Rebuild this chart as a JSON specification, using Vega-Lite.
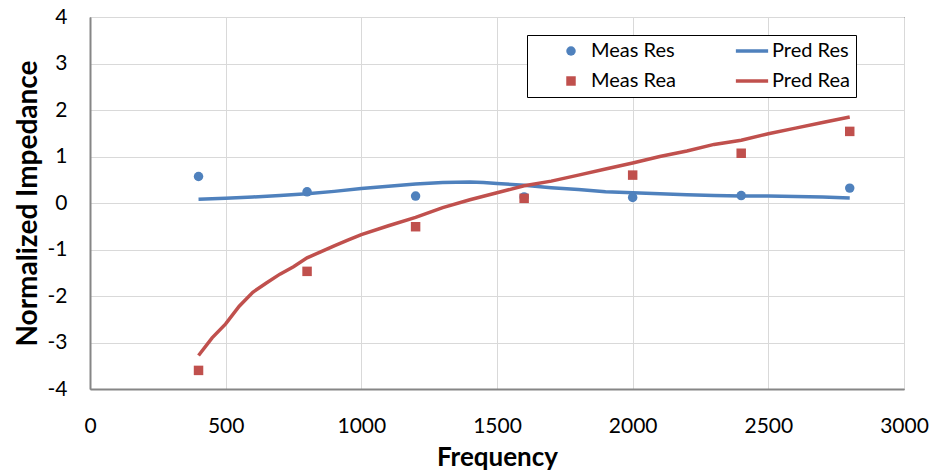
{
  "$schema": "https://vega.github.io/schema/vega-lite/v6.json",
  "width": 814,
  "height": 372,
  "autosize": {"type": "none"},
  "padding": {"left": 90, "top": 17, "right": 31, "bottom": 82},
  "background": "white",
  "config": {
    "font": "Lato",
    "view": {"stroke": "#000000", "strokeWidth": 1}
  },
  "datasets": {
    "meas": [
      {"freq": 400, "series": "Meas Res", "value": 0.57},
      {"freq": 800, "series": "Meas Res", "value": 0.24},
      {"freq": 1200, "series": "Meas Res", "value": 0.15},
      {"freq": 1600, "series": "Meas Res", "value": 0.13},
      {"freq": 2000, "series": "Meas Res", "value": 0.12},
      {"freq": 2400, "series": "Meas Res", "value": 0.16},
      {"freq": 2800, "series": "Meas Res", "value": 0.32},
      {"freq": 400, "series": "Meas Rea", "value": -3.6},
      {"freq": 800, "series": "Meas Rea", "value": -1.47},
      {"freq": 1200, "series": "Meas Rea", "value": -0.51},
      {"freq": 1600, "series": "Meas Rea", "value": 0.1},
      {"freq": 2000, "series": "Meas Rea", "value": 0.6},
      {"freq": 2400, "series": "Meas Rea", "value": 1.07},
      {"freq": 2800, "series": "Meas Rea", "value": 1.54}
    ],
    "pred": [
      {"freq": 400, "series": "Pred Res", "value": 0.08},
      {"freq": 500, "series": "Pred Res", "value": 0.1},
      {"freq": 600, "series": "Pred Res", "value": 0.13},
      {"freq": 700, "series": "Pred Res", "value": 0.16},
      {"freq": 800, "series": "Pred Res", "value": 0.2},
      {"freq": 900, "series": "Pred Res", "value": 0.25},
      {"freq": 1000, "series": "Pred Res", "value": 0.31},
      {"freq": 1100, "series": "Pred Res", "value": 0.36},
      {"freq": 1200, "series": "Pred Res", "value": 0.41},
      {"freq": 1300, "series": "Pred Res", "value": 0.44},
      {"freq": 1400, "series": "Pred Res", "value": 0.45},
      {"freq": 1450, "series": "Pred Res", "value": 0.44},
      {"freq": 1500, "series": "Pred Res", "value": 0.42},
      {"freq": 1600, "series": "Pred Res", "value": 0.38},
      {"freq": 1700, "series": "Pred Res", "value": 0.33},
      {"freq": 1800, "series": "Pred Res", "value": 0.29},
      {"freq": 1900, "series": "Pred Res", "value": 0.24},
      {"freq": 2000, "series": "Pred Res", "value": 0.22},
      {"freq": 2100, "series": "Pred Res", "value": 0.2},
      {"freq": 2200, "series": "Pred Res", "value": 0.18},
      {"freq": 2300, "series": "Pred Res", "value": 0.16},
      {"freq": 2400, "series": "Pred Res", "value": 0.15},
      {"freq": 2500, "series": "Pred Res", "value": 0.15},
      {"freq": 2600, "series": "Pred Res", "value": 0.14},
      {"freq": 2700, "series": "Pred Res", "value": 0.13},
      {"freq": 2800, "series": "Pred Res", "value": 0.11},
      {"freq": 400, "series": "Pred Rea", "value": -3.28},
      {"freq": 450, "series": "Pred Rea", "value": -2.9},
      {"freq": 500, "series": "Pred Rea", "value": -2.6},
      {"freq": 550, "series": "Pred Rea", "value": -2.22},
      {"freq": 600, "series": "Pred Rea", "value": -1.92},
      {"freq": 650, "series": "Pred Rea", "value": -1.72},
      {"freq": 700, "series": "Pred Rea", "value": -1.53},
      {"freq": 750, "series": "Pred Rea", "value": -1.37},
      {"freq": 800, "series": "Pred Rea", "value": -1.18},
      {"freq": 850, "series": "Pred Rea", "value": -1.05},
      {"freq": 900, "series": "Pred Rea", "value": -0.92},
      {"freq": 950, "series": "Pred Rea", "value": -0.8},
      {"freq": 1000, "series": "Pred Rea", "value": -0.68},
      {"freq": 1100, "series": "Pred Rea", "value": -0.49},
      {"freq": 1200, "series": "Pred Rea", "value": -0.31},
      {"freq": 1300, "series": "Pred Rea", "value": -0.1},
      {"freq": 1400, "series": "Pred Rea", "value": 0.07},
      {"freq": 1500, "series": "Pred Rea", "value": 0.22},
      {"freq": 1600, "series": "Pred Rea", "value": 0.37},
      {"freq": 1700, "series": "Pred Rea", "value": 0.47},
      {"freq": 1800, "series": "Pred Rea", "value": 0.6},
      {"freq": 1900, "series": "Pred Rea", "value": 0.73},
      {"freq": 2000, "series": "Pred Rea", "value": 0.86},
      {"freq": 2100, "series": "Pred Rea", "value": 1.0},
      {"freq": 2200, "series": "Pred Rea", "value": 1.12},
      {"freq": 2300, "series": "Pred Rea", "value": 1.26},
      {"freq": 2400, "series": "Pred Rea", "value": 1.35},
      {"freq": 2500, "series": "Pred Rea", "value": 1.49},
      {"freq": 2600, "series": "Pred Rea", "value": 1.61},
      {"freq": 2700, "series": "Pred Rea", "value": 1.73},
      {"freq": 2800, "series": "Pred Rea", "value": 1.85}
    ]
  },
  "encoding": {
    "x": {
      "field": "freq", "type": "quantitative",
      "scale": {"domain": [0, 3000], "nice": false, "zero": false},
      "axis": {
        "title": "Frequency", "values": [0, 500, 1000, 1500, 2000, 2500, 3000],
        "labelExpr": "'' + datum.value", "labelFlush": false,
        "grid": true, "gridColor": "#d9d9d9", "gridWidth": 1,
        "domainColor": "#868686", "domainWidth": 2, "ticks": false,
        "labelFontSize": 21, "labelColor": "#000", "labelPadding": 26, "labelFont": "Lato",
        "titleFontSize": 26, "titleFontWeight": "bold", "titleColor": "#000", "titleFont": "Lato",
        "titleY": 68, "titleBaseline": "middle"
      }
    },
    "y": {
      "field": "value", "type": "quantitative",
      "scale": {"domain": [-4, 4], "nice": false, "zero": false},
      "axis": {
        "title": "Normalized Impedance", "values": [-4, -3, -2, -1, 0, 1, 2, 3, 4],
        "labelExpr": "'' + datum.value", "labelFlush": false,
        "grid": true, "gridColor": "#d9d9d9", "gridWidth": 1,
        "domainColor": "#868686", "domainWidth": 2, "ticks": false,
        "labelFontSize": 21, "labelColor": "#000", "labelPadding": 23, "labelFont": "Lato",
        "titleFontSize": 28, "titleFontWeight": "bold", "titleColor": "#000", "titleFont": "Lato",
        "titleX": -62, "titleY": 186, "titleAngle": -90, "titleBaseline": "middle", "titleAlign": "center"
      }
    }
  },
  "layer": [
    {
      "data": {"name": "pred"},
      "mark": {"type": "line", "strokeWidth": 3.5},
      "encoding": {
        "stroke": {
          "field": "series", "type": "nominal",
          "scale": {"domain": ["Pred Res", "Pred Rea"], "range": ["#4f81bd", "#c0504d"]},
          "legend": null
        }
      }
    },
    {
      "data": {"name": "meas"},
      "mark": {"type": "point", "filled": true, "opacity": 1, "size": 90},
      "encoding": {
        "color": {
          "field": "series", "type": "nominal",
          "scale": {
            "domain": ["Meas Res", "Meas Rea", "Pred Res", "Pred Rea"],
            "range": ["#4f81bd", "#c0504d", "#4f81bd", "#c0504d"]
          },
          "legend": {
            "title": null, "orient": "none", "legendX": 437, "legendY": 18,
            "columns": 2, "columnPadding": 38, "rowPadding": 10,
            "fillColor": "white", "strokeColor": "#000000", "padding": 6,
            "labelFontSize": 20, "labelColor": "#000", "labelFont": "Lato", "labelOffset": 10,
            "symbolOpacity": 1, "symbolSize": 90, "symbolOffset": 28
          }
        },
        "shape": {
          "field": "series", "type": "nominal",
          "scale": {
            "domain": ["Meas Res", "Meas Rea", "Pred Res", "Pred Rea"],
            "range": ["circle", "square", "M-3.4,-0.37H3.4V0.37H-3.4Z", "M-3.4,-0.37H3.4V0.37H-3.4Z"]
          },
          "legend": {
            "title": null, "orient": "none", "legendX": 437, "legendY": 18,
            "columns": 2, "columnPadding": 38, "rowPadding": 10,
            "fillColor": "white", "strokeColor": "#000000", "padding": 6,
            "labelFontSize": 20, "labelColor": "#000", "labelFont": "Lato", "labelOffset": 10,
            "symbolOpacity": 1, "symbolSize": 90, "symbolOffset": 28
          }
        }
      }
    }
  ]
}
